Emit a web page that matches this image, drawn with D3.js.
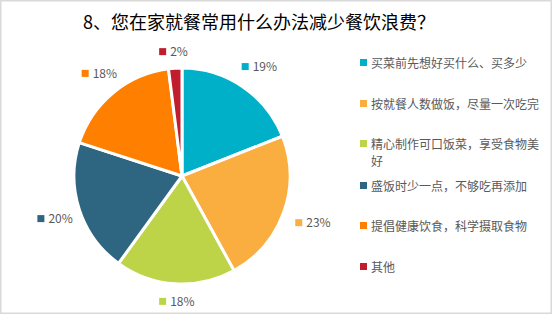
<!DOCTYPE html>
<html>
<head>
<meta charset="utf-8">
<script src="https://cdn.jsdelivr.net/npm/d3@7"></script>
<style>
  body { margin: 0; background: #fff; }
  svg { display: block; font-family: "Noto Sans CJK SC", "Microsoft YaHei", sans-serif; }
</style>
</head>
<body>
<div id="chart"></div>
<script>
// chart data
const title = '8、您在家就餐常用什么办法减少餐饮浪费？';
const categories = [
    '买菜前先想好买什么、买多少',
    '按就餐人数做饭，尽量一次吃完',
    '精心制作可口饭菜，享受食物美好',
    '盛饭时少一点，不够吃再添加',
    '提倡健康饮食，科学摄取食物',
    '其他'
];
const values = [19, 23, 18, 20, 18, 2];
const colors = ['#00B0C9', '#FBAE40', '#BDD448', '#2E6580', '#FF7F00', '#C01E2E'];

const width = 553, height = 315;
const cx = 182, cy = 176, radius = 108;

const svg = d3.select('#chart')
    .append('svg')
    .attr('width', width)
    .attr('height', height);

// outer frame
svg.append('rect')
    .attr('x', 0.75).attr('y', 0.75)
    .attr('width', width - 2.5).attr('height', height - 2.5)
    .attr('fill', '#fff')
    .attr('stroke', '#d9d9d9')
    .attr('stroke-width', 1.5);

// title
svg.append('text')
    .attr('x', 259)
    .attr('y', 29)
    .attr('text-anchor', 'middle')
    .attr('font-size', 18)
    .attr('fill', '#000')
    .text(title);

// pie
const pie = d3.pie().sort(null).value(d => d)(values);
const arc = d3.arc().innerRadius(0).outerRadius(radius);

const g = svg.append('g').attr('transform', `translate(${cx},${cy})`);

g.selectAll('path')
    .data(pie)
    .enter()
    .append('path')
    .attr('d', arc)
    .attr('fill', (d, i) => colors[i])
    .attr('stroke', '#fff')
    .attr('stroke-width', 3)
    .attr('stroke-linejoin', 'round');

// data labels: small square + percent, placed just outside the slice edge
const boxW = 36, boxH = 14;
function labelPos(d) {
    const a = (d.startAngle + d.endAngle) / 2;
    const s = Math.sin(a), c = Math.cos(a);
    const r = 117 + Math.abs(s) * boxW / 2 + Math.abs(c) * boxH / 2;
    return [s * r, -c * r];
}

const labels = g.selectAll('.lbl')
    .data(pie)
    .enter()
    .append('g')
    .attr('class', 'lbl')
    .attr('transform', d => {
        const [x, y] = labelPos(d);
        return `translate(${x},${y})`;
    });

labels.append('rect')
    .attr('x', -15).attr('y', -3)
    .attr('width', 7).attr('height', 7)
    .attr('fill', (d, i) => colors[i]);

labels.append('text')
    .attr('x', -4)
    .attr('y', 5)
    .attr('font-size', 12)
    .attr('fill', '#595959')
    .text(d => d.value + '%');

// legend
const legendRows = [63, 104, 144, 186, 226, 267];
const maxChars = 14;
const legend = svg.append('g');

categories.forEach((name, i) => {
    const row = legend.append('g').attr('transform', `translate(360,${legendRows[i]})`);
    row.append('rect')
        .attr('x', 0).attr('y', -4)
        .attr('width', 7).attr('height', 7)
        .attr('fill', colors[i]);
    const lines = [];
    for (let k = 0; k < name.length; k += maxChars) lines.push(name.slice(k, k + maxChars));
    lines.forEach((ln, j) => {
        row.append('text')
            .attr('x', 11)
            .attr('y', 4.5 + j * 17.5)
            .attr('font-size', 12)
            .attr('fill', '#595959')
            .text(ln);
    });
});
</script>
</body>
</html>
